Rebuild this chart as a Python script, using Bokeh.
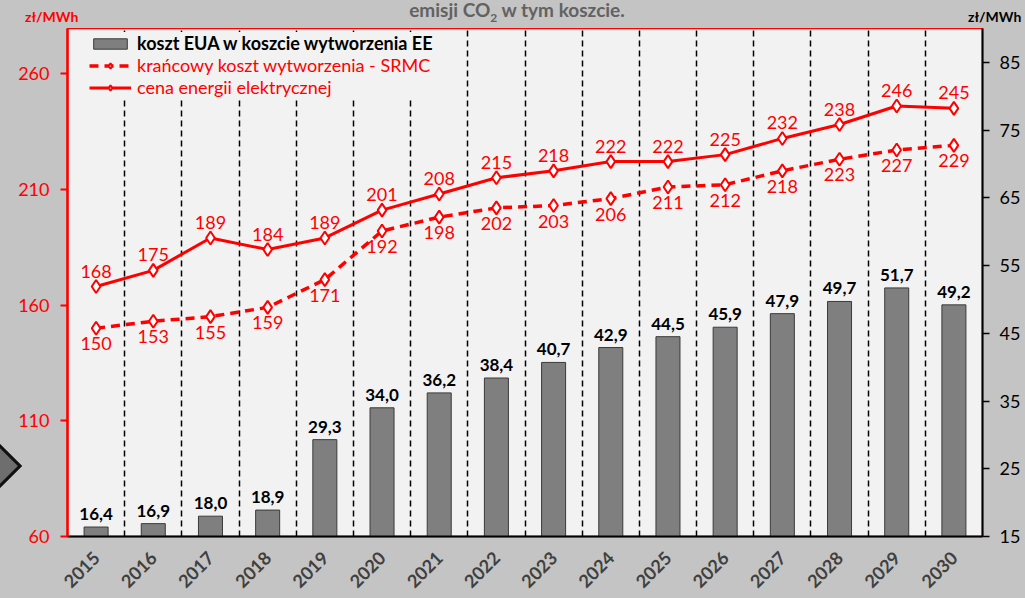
from bokeh.plotting import figure
from bokeh.models import (Range1d, LinearAxis, FixedTicker, ColumnDataSource, Legend, LegendItem, Div)
from bokeh.layouts import column
from bokeh.core.properties import value
from bokeh.embed import file_html
from bokeh.resources import INLINE
import math

years = ["2015", "2016", "2017", "2018", "2019", "2020", "2021", "2022",
         "2023", "2024", "2025", "2026", "2027", "2028", "2029", "2030"]
eua_cost = [16.4, 16.9, 18.0, 18.9, 29.3, 34.0, 36.2, 38.4, 40.7, 42.9, 44.5, 45.9, 47.9, 49.7, 51.7, 49.2]
srmc = [150, 153, 155, 159, 171, 192, 198, 202, 203, 206, 211, 212, 218, 223, 227, 229]
price = [168, 175, 189, 184, 189, 201, 208, 215, 218, 222, 222, 225, 232, 238, 246, 245]
left_ticks = [60, 110, 160, 210, 260]
right_ticks = [15, 25, 35, 45, 55, 65, 75, 85]

FONT = "Lato"
RED = "#ff0000"
BORDER = "#c4c4c4"

xs = list(range(len(years)))
src = ColumnDataSource(dict(
    x=xs, eua=eua_cost, srmc=srmc, price=price,
    eua_lbl=[f"{v:.1f}".replace(".", ",") for v in eua_cost],
    srmc_lbl=[str(v) for v in srmc],
    price_lbl=[str(v) for v in price],
))

header = Div(
    text=(
        f'<div style="position:relative;width:1025px;height:28px;font-family:{FONT};font-weight:bold;">'
        f'<span style="position:absolute;left:25px;top:7px;font-size:14px;color:{RED};">zł/MWh</span>'
        '<span style="position:absolute;left:968px;top:7px;font-size:14px;color:black;">zł/MWh</span>'
        '<span style="position:absolute;left:0;width:1034px;top:-4px;text-align:center;font-size:19px;'
        'color:#626262;">emisji CO<sub style="font-size:12px;">2</sub> w tym koszcie.</span>'
        '<div style="position:absolute;left:-31px;top:444px;width:44px;height:44px;box-sizing:border-box;'
        'transform:rotate(45deg);background:#6e6e6e;border:3px solid #111;z-index:50;"></div>'
        '</div>'
    ),
    width=1025, height=28, margin=0,
    styles={"background-color": BORDER, "overflow": "visible", "z-index": "50"},
)

p = figure(width=1025, height=570, output_backend="svg", toolbar_location=None,
           x_range=Range1d(-0.5, len(years) - 0.5), y_range=Range1d(60, 279.5),
           min_border_left=67, min_border_right=43, min_border_top=0, min_border_bottom=62,
           margin=0)
p.extra_y_ranges = {"right": Range1d(15, 90)}

p.background_fill_color = "#f2f2f2"
p.border_fill_color = BORDER
p.outline_line_color = RED
p.outline_line_width = 1.5

p.ygrid.visible = False
p.xgrid.ticker = FixedTicker(ticks=[i + 0.5 for i in xs[:-1]])
p.xgrid.grid_line_color = "black"
p.xgrid.grid_line_dash = "6 4"
p.xgrid.grid_line_width = 1.5

la = p.yaxis[0]
la.ticker = FixedTicker(ticks=left_ticks)
la.axis_line_color = RED
la.axis_line_width = 2.5
la.major_tick_line_color = RED
la.major_tick_line_width = 2
la.major_tick_out = 7
la.major_tick_in = 0
la.minor_tick_line_color = None
la.major_label_text_color = RED
la.major_label_text_font = FONT
la.major_label_text_font_size = "18px"
la.major_label_standoff = 11

ra = LinearAxis(y_range_name="right", ticker=FixedTicker(ticks=right_ticks))
ra.axis_line_color = "black"
ra.axis_line_width = 2
ra.major_tick_line_color = "black"
ra.major_tick_line_width = 1.5
ra.major_tick_out = 7
ra.major_tick_in = 0
ra.minor_tick_line_color = None
ra.major_label_text_color = "black"
ra.major_label_text_font = FONT
ra.major_label_text_font_size = "18px"
ra.major_label_standoff = 10
p.add_layout(ra, "right")

xa = p.xaxis[0]
xa.ticker = FixedTicker(ticks=xs)
xa.major_label_overrides = {i: y for i, y in zip(xs, years)}
xa.axis_line_color = "black"
xa.axis_line_width = 2
xa.major_tick_line_color = None
xa.minor_tick_line_color = None
xa.major_label_orientation = math.pi / 4
xa.major_label_text_font = FONT
xa.major_label_text_font_size = "18px"
xa.major_label_text_font_style = "bold"
xa.major_label_text_color = "#404040"
xa.major_label_standoff = 12

bars = p.vbar(x="x", top="eua", bottom=15, width=0.42, source=src, y_range_name="right",
              fill_color="#7f7f7f", line_color="#3a3a3a", line_width=1)
p.text(x="x", y="eua", text="eua_lbl", source=src, y_range_name="right",
       text_align="center", text_baseline="bottom", y_offset=-7,
       text_font=value(FONT), text_font_size="17px", text_font_style="bold", text_color="black")

l_srmc = p.line(x="x", y="srmc", source=src, line_color=RED, line_width=3.5, line_dash="9 6")
m_srmc = p.scatter(x="x", y="srmc", source=src, marker="diamond", size=13,
                   fill_color="white", line_color=RED, line_width=2)
p.text(x="x", y="srmc", text="srmc_lbl", source=src, text_align="center", text_baseline="top",
       y_offset=9, text_font=value(FONT), text_font_size="18px", text_color=RED)

l_price = p.line(x="x", y="price", source=src, line_color=RED, line_width=3)
m_price = p.scatter(x="x", y="price", source=src, marker="diamond", size=13,
                    fill_color="white", line_color=RED, line_width=2)
p.text(x="x", y="price", text="price_lbl", source=src, text_align="center", text_baseline="bottom",
       y_offset=-9, text_font=value(FONT), text_font_size="18px", text_color=RED)

leg1 = Legend(items=[LegendItem(label="koszt EUA w koszcie wytworzenia EE", renderers=[bars])],
              location=(22, 482))
leg2 = Legend(items=[LegendItem(label="krańcowy koszt wytworzenia - SRMC", renderers=[l_srmc, m_srmc]),
                     LegendItem(label="cena energii elektrycznej", renderers=[l_price, m_price])],
              location=(22, 438))
for lg, col, style in ((leg1, "black", "bold"), (leg2, RED, "normal")):
    lg.label_text_color = col
    lg.label_text_font = FONT
    lg.label_text_font_size = "18px"
    lg.label_text_font_style = style
    lg.background_fill_color = "#f2f2f2"
    lg.background_fill_alpha = 1
    lg.border_line_color = None
    lg.glyph_width = 42
    lg.glyph_height = 13
    lg.label_height = 21
    lg.label_standoff = 6
    lg.padding = 0
    lg.spacing = 0
    lg.margin = 0
    p.add_layout(lg)

layout = column(header, p, spacing=0, margin=0)
layout.styles = {"background-color": BORDER}

open("out.html", "w").write(file_html(layout, INLINE))
